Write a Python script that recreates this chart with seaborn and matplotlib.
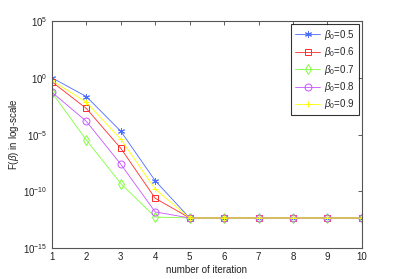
import numpy as np
import pandas as pd
import matplotlib
matplotlib.use('Agg')
import matplotlib.pyplot as plt
import seaborn as sns

# data (log10 of F)
iterations = [1, 2, 3, 4, 5, 6, 7, 8, 9, 10]
flat = -12.33
log_b05 = [0.0, -1.65, -4.7, -9.06, flat, flat, flat, flat, flat, flat]
log_b06 = [-0.35, -2.7, -6.2, -10.6, flat, flat, flat, flat, flat, flat]
log_b07 = [-1.3, -5.47, -9.3, -12.25, flat, flat, flat, flat, flat, flat]
log_b08 = [-1.27, -3.83, -7.6, -11.8, flat, flat, flat, flat, flat, flat]
log_b09 = [-0.24, -2.15, -5.4, -9.8, flat, flat, flat, flat, flat, flat]
labels = [r'$\beta_0$=0.5', r'$\beta_0$=0.6', r'$\beta_0$=0.7', r'$\beta_0$=0.8', r'$\beta_0$=0.9']

series = [log_b05, log_b06, log_b07, log_b08, log_b09]
colors = ['#4a6cff', '#ff2a2a', '#7fff3a', '#c655ff', '#ffff00']
markers = [(6, 2, 0), 's', 'd', 'o', '+']

sns.set_style('white')
plt.rcParams['font.family'] = ['Liberation Sans', 'DejaVu Sans']
plt.rcParams['mathtext.fontset'] = 'custom'
plt.rcParams['mathtext.rm'] = 'Liberation Sans'
plt.rcParams['mathtext.it'] = 'Liberation Sans:italic'

fig = plt.figure(figsize=(3.99, 2.79), dpi=100)
ax = fig.add_axes([0.13, 0.11, 0.777, 0.815])

for vals, lab, c, m in zip(series, labels, colors, markers):
    df = pd.DataFrame({'iter': iterations, 'F': np.power(10.0, vals)})
    sns.lineplot(data=df, x='iter', y='F', ax=ax, color=c, marker=m,
                 markersize=5, markerfacecolor='none', markeredgecolor=c,
                 markeredgewidth=0.7, linewidth=0.6, label=lab)

ax.set_yscale('log')
ax.set_xlim(1, 10)
ax.set_ylim(1e-15, 1e5)
ax.set_xticks(iterations)
ax.set_yticks([1e-15, 1e-10, 1e-5, 1e0, 1e5])
ax.minorticks_off()
ax.tick_params(direction='in', top=True, right=True, labelsize=7, length=3,
               width=0.6, color='#444444', labelcolor='#222222', pad=3)
for s in ax.spines.values():
    s.set_color('#555555')
    s.set_linewidth(0.8)
ax.set_xlabel('number of iteration', fontsize=7, labelpad=2, color='#222222')
ax.set_ylabel(r'F($\beta$) in log-scale', fontsize=7, labelpad=2, color='#222222')

leg = ax.legend(loc='upper right', fontsize=7, frameon=True, fancybox=False,
                borderaxespad=0.3, handlelength=2.6, labelspacing=0.35,
                borderpad=0.4, handletextpad=0.4)
leg.get_frame().set_edgecolor('black')
leg.get_frame().set_linewidth(0.8)

fig.savefig('out.png', dpi=100)
